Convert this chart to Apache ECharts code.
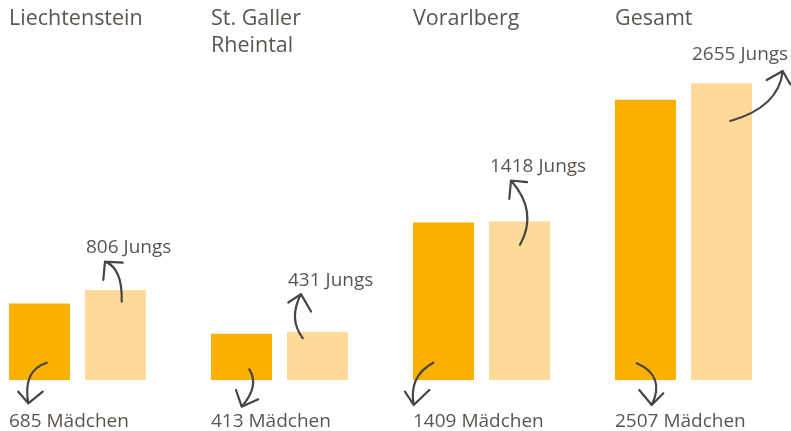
<!DOCTYPE html>
<html><head><meta charset="utf-8">
<script src="https://cdn.jsdelivr.net/npm/echarts@6/dist/echarts.min.js"></script>
<style>html,body{margin:0;padding:0;background:#fff}#c{width:791px;height:431px}</style>
</head><body><div id="c"></div>
<script>
const categories = ['Liechtenstein', 'St. Galler\nRheintal', 'Vorarlberg', 'Gesamt'];
const girls = [685, 413, 1409, 2507];
const boys = [806, 431, 1418, 2655];
const girlsWord = 'Mädchen';
const boysWord = 'Jungs';

// decoration (hand-drawn arrows), offsets relative to bar corners: [tail, mid, tip, headA, headB]
const girlArrows = [
  [[37.7,-17.3],[21,-3.3],[19.3,23.3],[9.3,11.7],[33.7,11.7]],
  [[38.3,-10.7],[41.7,6.7],[30.7,26.7],[25,10],[47.3,19.3]],
  [[20.3,-17.3],[3,0],[0.7,25],[-8,11.7],[16.3,10]],
  [[21.7,-16.7],[40,0],[36.7,25],[24.3,10],[48.3,13.3]]
];
const boyArrows = [
  [[36.7,11.7],[33,-15],[20,-28.3],[18.3,-10],[37.7,-27.3]],
  [[15.7,6.3],[8,-14.3],[14,-37.7],[1.3,-29.3],[24,-20.3]],
  [[31,23.3],[38,-9.3],[22,-41],[20.3,-22.7],[38,-39.3]],
  [[39.3,37.7],[76.7,18.3],[91.7,-12.3],[75.7,-3.3],[99.3,1]]
];
const boyLabelDy = [-42.5, -51.5, -54.5, -28.5];

const BAR_W = 61, GAP = 15;
const FONT = '"Open Sans", sans-serif';
const TXT = '#5b5550';
const ARROW = '#4a4440';

function arrowPath(ox, oy, a) {
  const p0 = a[0], m = a[1], p2 = a[2], ha = a[3], hb = a[4];
  const cx = 2*m[0] - (p0[0]+p2[0])/2, cy = 2*m[1] - (p0[1]+p2[1])/2;
  const f = (p) => (ox+p[0]).toFixed(1) + ' ' + (oy+p[1]).toFixed(1);
  return 'M' + f(p0) + ' Q' + (ox+cx).toFixed(1) + ' ' + (oy+cy).toFixed(1) + ' ' + f(p2) +
         ' M' + f(ha) + ' L' + f(p2) + ' L' + f(hb);
}

function renderItem(params, api) {
  const i = params.dataIndex;
  const c = api.coord([i, 0]);
  const base = c[1];
  const gl = c[0] - (BAR_W*2 + GAP)/2;
  const bl = gl + BAR_W + GAP;
  const topB = api.coord([i, boys[i]])[1];
  const children = [];
  children.push({type:'text', style:{text: categories[i], x: gl, y: 6, font: '400 21.5px ' + FONT, fill: TXT, lineHeight: 26.5, verticalAlign:'top', align:'left'}});
  children.push({type:'text', style:{text: girls[i] + ' ' + girlsWord, x: gl, y: base + 42, font: '400 19px ' + FONT, fill: TXT, verticalAlign:'middle', align:'left'}});
  children.push({type:'text', style:{text: boys[i] + ' ' + boysWord, x: bl + 1, y: topB + boyLabelDy[i], font: '400 19px ' + FONT, fill: TXT, verticalAlign:'middle', align:'left'}});
  children.push({type:'path', shape:{pathData: arrowPath(gl, base, girlArrows[i])}, style:{stroke: ARROW, fill: 'none', lineWidth: 2.2, lineCap:'round', lineJoin:'round'}});
  children.push({type:'path', shape:{pathData: arrowPath(bl, topB, boyArrows[i])}, style:{stroke: ARROW, fill: 'none', lineWidth: 2.2, lineCap:'round', lineJoin:'round'}});
  return {type:'group', children};
}

const chart = echarts.init(document.getElementById('c'), null, {renderer:'canvas'});
chart.setOption({
  animation: false,
  grid: {left: 77.5, right: 107.5, top: 0, bottom: 51, containLabel: false},
  xAxis: {type:'category', data: categories, show: false, boundaryGap: false},
  yAxis: {type:'value', min: 0, max: 3400, show: false},
  series: [
    {type:'bar', name: girlsWord, data: girls, barWidth: BAR_W, barGap: (GAP/BAR_W*100).toFixed(2) + '%', itemStyle:{color:'#F9B000'}, z: 1},
    {type:'bar', name: boysWord, data: boys, barWidth: BAR_W, itemStyle:{color:'#FDDA98'}, z: 1},
    {type:'custom', data: categories.map((c, i) => [i, girls[i], boys[i]]), renderItem, z: 5, silent: true, clip: false}
  ]
});
</script></body></html>
